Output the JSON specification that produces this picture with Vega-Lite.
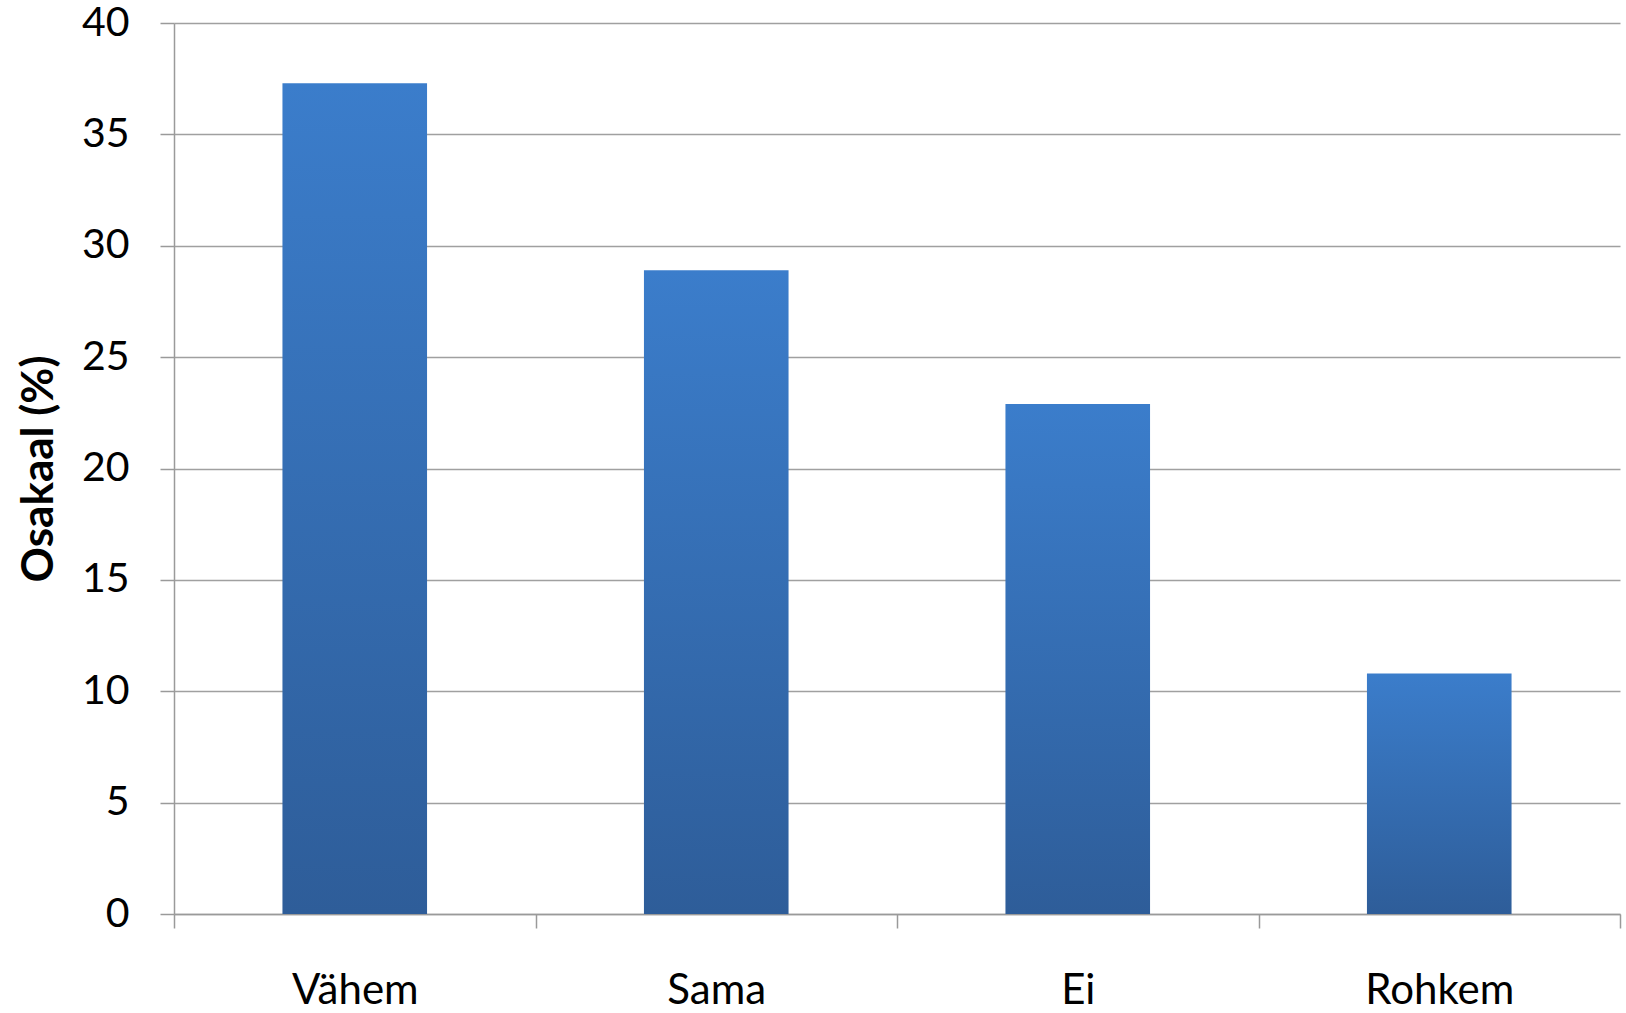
{
  "$schema": "https://vega.github.io/schema/vega-lite/v6.json",
  "autosize": {"type": "none"},
  "width": 1446,
  "height": 891,
  "padding": {"left": 174, "top": 23, "right": 6, "bottom": 99},
  "background": "white",
  "data": {
    "values": [
      {"kategooria": "Vähem", "osakaal": 37.3},
      {"kategooria": "Sama", "osakaal": 28.9},
      {"kategooria": "Ei", "osakaal": 22.9},
      {"kategooria": "Rohkem", "osakaal": 10.8}
    ]
  },
  "config": {
    "view": {"stroke": null},
    "font": "Lato",
    "axis": {"labelFont": "Lato", "titleFont": "Lato"}
  },
  "mark": {
    "type": "bar",
    "width": {"band": 0.4},
    "color": {
      "gradient": "linear",
      "x1": 0, "y1": 0, "x2": 0, "y2": 1,
      "stops": [
        {"offset": 0, "color": "#3B7DCB"},
        {"offset": 1, "color": "#2E5D99"}
      ]
    }
  },
  "encoding": {
    "x": {
      "field": "kategooria",
      "type": "nominal",
      "sort": null,
      "title": null,
      "scale": {"paddingInner": 0, "paddingOuter": 0},
      "axis": {
        "labelAngle": 0,
        "labelFontSize": 42,
        "labelColor": "#000000",
        "labelPadding": 42,
        "tickBand": "extent",
        "tickSize": 14,
        "tickWidth": 1.5,
        "tickColor": "#9A9A9A",
        "domainColor": "#9A9A9A",
        "domainWidth": 1.5,
        "grid": false
      }
    },
    "y": {
      "field": "osakaal",
      "type": "quantitative",
      "title": "Osakaal (%)",
      "scale": {"domain": [0, 40]},
      "axis": {
        "values": [0, 5, 10, 15, 20, 25, 30, 35, 40],
        "labelFontSize": 41,
        "labelColor": "#000000",
        "labelPadding": 31,
        "tickSize": 14,
        "tickWidth": 1.5,
        "tickColor": "#9A9A9A",
        "domainColor": "#9A9A9A",
        "domainWidth": 1.5,
        "grid": true,
        "gridColor": "#A0A0A0",
        "gridWidth": 1.5,
        "titleFontSize": 44,
        "titleFontWeight": "bold",
        "titleColor": "#000000",
        "titlePadding": 20
      }
    }
  }
}
